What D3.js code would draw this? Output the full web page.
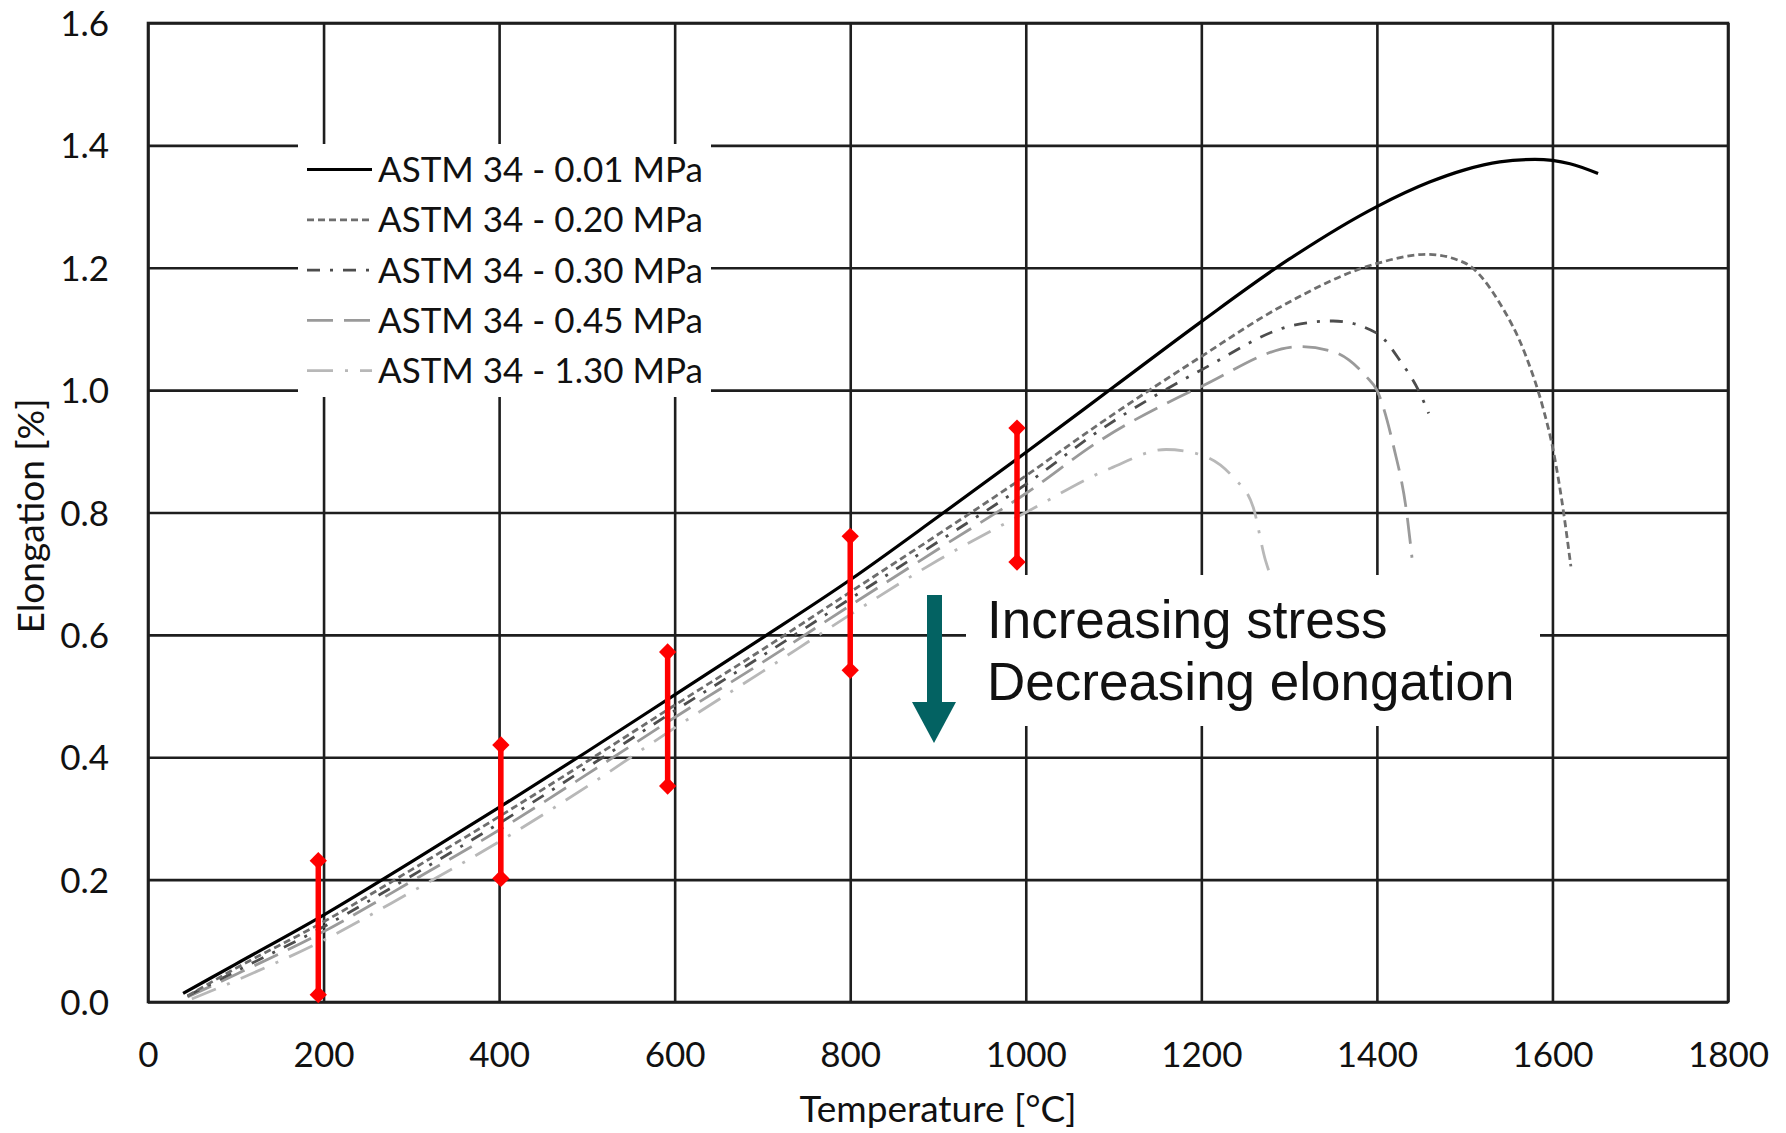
<!DOCTYPE html>
<html>
<head>
  <meta charset="utf-8">
  <title>Elongation vs temperature</title>
  <script src="https://cdn.jsdelivr.net/npm/d3@7"></script>
  <style type="text/css">
    body { margin: 0; background: #fff; }
    text { font-family: Lato, "Open Sans", sans-serif; fill: #111; }
  </style>
</head>
<body>
  <div id="chartArea"></div>
  <script type="text/javascript">
    // series: temperature [°C] and elongation [%]
    let temps001 = [40, 100, 200, 300, 400, 500, 600, 700, 800, 900, 1000, 1100, 1200, 1300, 1400, 1460, 1500, 1540, 1580, 1620, 1652];
    let elong001 = [0.014, 0.062, 0.142, 0.229, 0.318, 0.409, 0.502, 0.595, 0.690, 0.793, 0.898, 1.005, 1.112, 1.214, 1.300, 1.340, 1.360, 1.373, 1.377, 1.370, 1.354];

    let temps020 = [45, 100, 200, 300, 400, 500, 600, 700, 800, 900, 1000, 1085, 1200, 1290, 1400, 1457, 1500, 1540, 1570, 1590, 1600, 1610, 1621];
    let elong020 = [0.010, 0.055, 0.131, 0.216, 0.303, 0.393, 0.485, 0.576, 0.670, 0.764, 0.860, 0.946, 1.055, 1.136, 1.207, 1.222, 1.208, 1.142, 1.055, 0.967, 0.908, 0.826, 0.712];

    let temps030 = [45, 100, 200, 300, 400, 500, 600, 700, 800, 900, 1000, 1085, 1200, 1305, 1350, 1400, 1426, 1449, 1459];
    let elong030 = [0.010, 0.050, 0.123, 0.206, 0.292, 0.383, 0.476, 0.566, 0.659, 0.752, 0.846, 0.935, 1.033, 1.106, 1.113, 1.093, 1.049, 0.995, 0.962];

    let temps045 = [45, 100, 200, 300, 400, 500, 600, 700, 800, 900, 1000, 1085, 1200, 1312, 1350, 1388, 1400, 1419, 1434, 1440];
    let elong045 = [0.008, 0.045, 0.115, 0.197, 0.281, 0.372, 0.465, 0.555, 0.648, 0.740, 0.831, 0.918, 1.006, 1.071, 1.063, 1.022, 1.000, 0.908, 0.799, 0.726];

    let temps130 = [50, 100, 200, 300, 400, 500, 600, 700, 800, 900, 1000, 1096, 1160, 1200, 1236, 1259, 1273, 1278];
    let elong130 = [0.005, 0.035, 0.101, 0.180, 0.262, 0.352, 0.448, 0.540, 0.633, 0.722, 0.800, 0.872, 0.903, 0.894, 0.858, 0.809, 0.722, 0.700];

    // red range bars
    let barTemps = [194, 402, 592, 800, 990];
    let barLow = [0.012, 0.202, 0.353, 0.542, 0.719];
    let barHigh = [0.231, 0.420, 0.572, 0.761, 0.938];

    let seriesNames = ['ASTM 34 - 0.01 MPa', 'ASTM 34 - 0.20 MPa', 'ASTM 34 - 0.30 MPa', 'ASTM 34 - 0.45 MPa', 'ASTM 34 - 1.30 MPa'];
    let xTicks = [0, 200, 400, 600, 800, 1000, 1200, 1400, 1600, 1800];
    let yTicks = [0, 0.2, 0.4, 0.6, 0.8, 1.0, 1.2, 1.4, 1.6];

    let series = [
      { name: seriesNames[0], t: temps001, e: elong001, color: '#000', width: 3.2, dash: null },
      { name: seriesNames[1], t: temps020, e: elong020, color: '#6e6e6e', width: 2.8, dash: '7,4' },
      { name: seriesNames[2], t: temps030, e: elong030, color: '#4d4d4d', width: 2.8, dash: '13,10,3,10' },
      { name: seriesNames[3], t: temps045, e: elong045, color: '#9a9a9a', width: 2.8, dash: '26,11' },
      { name: seriesNames[4], t: temps130, e: elong130, color: '#b8b8b8', width: 2.8, dash: '26,12,3,12' }
    ];

    let W = 1786, H = 1133;
    let margin = { top: 23, right: 58, bottom: 131, left: 148 };
    let w = W - margin.left - margin.right;
    let h = H - margin.top - margin.bottom;

    let xScale = d3.scaleLinear().domain([0, 1800]).range([0, w]);
    let yScale = d3.scaleLinear().domain([0, 1.6]).range([h, 0]);

    let root = d3.select('#chartArea').append('svg')
      .attr('width', W)
      .attr('height', H);
    root.append('rect').attr('width', W).attr('height', H).attr('fill', '#fff');

    let svg = root.append('g')
      .attr('transform', `translate(${margin.left}, ${margin.top})`);

    // grid + tick labels
    let xAxis = svg.append('g')
      .attr('transform', `translate(0, ${h})`)
      .call(d3.axisBottom(xScale).tickValues(xTicks).tickSize(-h).tickFormat(d3.format('d')));
    let yAxis = svg.append('g')
      .call(d3.axisLeft(yScale).tickValues(yTicks).tickSize(-w).tickFormat(d3.format('.1f')));

    [xAxis, yAxis].forEach(a => {
      a.select('.domain').remove();
      a.selectAll('line').attr('stroke', '#1e1e1e').attr('stroke-width', 2.6);
      a.selectAll('text').attr('font-size', 35).attr('fill', '#111').attr('font-family', 'Lato');
    });
    xAxis.selectAll('text').attr('y', 65).attr('dy', 0);
    yAxis.selectAll('text').attr('x', -39).attr('dy', 12.5);

    svg.append('rect')
      .attr('width', w).attr('height', h)
      .attr('fill', 'none').attr('stroke', '#1e1e1e').attr('stroke-width', 2.6);

    // white boxes behind legend and note
    let legendBox = { x: 298, y: 144, w: 413, h: 253 };
    let noteBox = { x: 966, y: 575, w: 574, h: 151 };
    [legendBox, noteBox].forEach(b => {
      root.append('rect')
        .attr('x', b.x).attr('y', b.y).attr('width', b.w).attr('height', b.h)
        .attr('fill', '#fff');
    });

    let line = d3.line()
      .x(d => xScale(d[0]))
      .y(d => yScale(d[1]))
      .curve(d3.curveMonotoneX);

    // highest stress drawn first so black sits on top
    series.slice().reverse().forEach(s => {
      svg.append('path')
        .datum(d3.zip(s.t, s.e))
        .attr('d', line)
        .attr('fill', 'none')
        .attr('stroke', s.color)
        .attr('stroke-width', s.width)
        .attr('stroke-dasharray', s.dash)
        .attr('stroke-linejoin', 'round');
    });

    // red range bars with diamond ends
    let bars = d3.zip(barTemps, barLow, barHigh);
    svg.selectAll('.rangebar')
      .data(bars)
      .enter()
      .append('line')
      .attr('class', 'rangebar')
      .attr('x1', d => xScale(d[0]))
      .attr('x2', d => xScale(d[0]))
      .attr('y1', d => yScale(d[1]))
      .attr('y2', d => yScale(d[2]))
      .attr('stroke', '#ff0000')
      .attr('stroke-width', 5.5);

    let diamond = d3.symbol().type(d3.symbolSquare).size(150);
    let ends = bars.flatMap(d => [[d[0], d[1]], [d[0], d[2]]]);
    svg.selectAll('.diamond')
      .data(ends)
      .enter()
      .append('path')
      .attr('class', 'diamond')
      .attr('d', diamond)
      .attr('transform', d => `translate(${xScale(d[0])}, ${yScale(d[1])}) rotate(45)`)
      .attr('fill', '#ff0000');

    // legend
    let legend = root.append('g').attr('transform', 'translate(307, 182)');
    series.forEach((s, i) => {
      let g = legend.append('g').attr('transform', `translate(0, ${i * 50.3})`);
      g.append('line')
        .attr('x1', 0).attr('x2', 65)
        .attr('y1', -12.5).attr('y2', -12.5)
        .attr('stroke', s.color)
        .attr('stroke-width', s.width)
        .attr('stroke-dasharray', s.dash);
      g.append('text')
        .attr('x', 71)
        .attr('font-size', 35)
        .text(s.name);
    });

    // axis titles
    root.append('text')
      .attr('x', margin.left + w / 2)
      .attr('y', 1122)
      .attr('text-anchor', 'middle')
      .attr('font-size', 37)
      .text('Temperature [°C]');
    root.append('text')
      .attr('transform', 'translate(44, 516) rotate(-90)')
      .attr('text-anchor', 'middle')
      .attr('font-size', 37)
      .text('Elongation [%]');

    // arrow + note
    let arrow = root.append('g').attr('fill', '#036262');
    arrow.append('rect').attr('x', 927).attr('y', 595).attr('width', 15).attr('height', 108);
    arrow.append('path').attr('d', 'M912,702 L956,702 L934,743 Z');

    [['Increasing stress', 638], ['Decreasing elongation', 700]].forEach(n => {
      root.append('text')
        .attr('x', 987).attr('y', n[1])
        .attr('font-size', 53)
        .style('font-family', '"Liberation Sans", Arial, sans-serif')
        .text(n[0]);
    });
  </script>
</body>
</html>
